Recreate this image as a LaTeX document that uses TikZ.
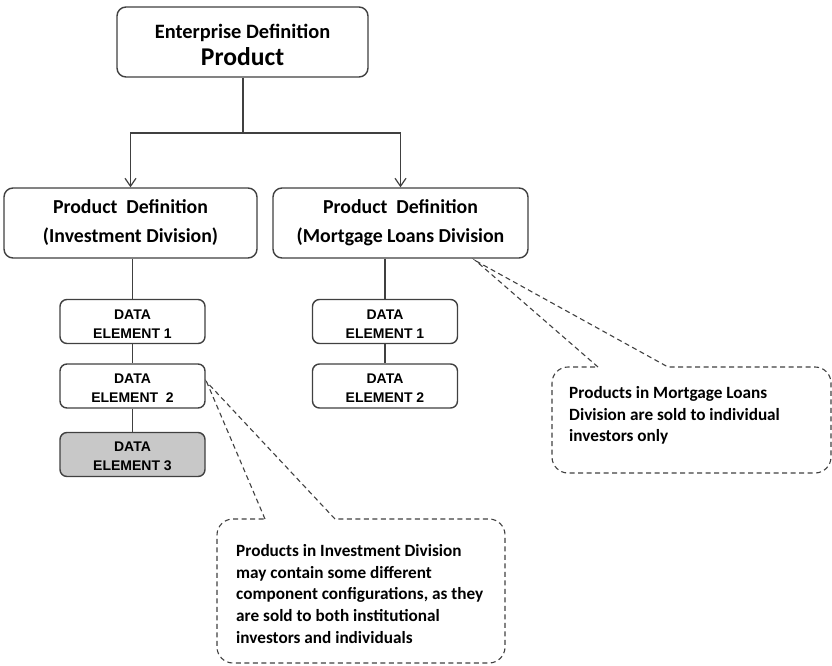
\documentclass[tikz,border=0pt]{standalone}
\usepackage{fontspec}
\setmainfont{Carlito}
\newfontfamily\arialfont{Liberation Sans}
\usetikzlibrary{arrows.meta}
\definecolor{edge}{HTML}{404040}
\definecolor{shade}{HTML}{C8C8C8}
\tikzset{
  box/.style={draw=edge, line width=1.4pt, rounded corners=9pt, fill=white, align=center, inner sep=0pt, text=black},
  defbox/.style={box, minimum width=253pt, minimum height=70pt, font=\bfseries\fontsize{19.8}{29}\selectfont},
  elembox/.style={box, rounded corners=7pt, minimum width=145pt, minimum height=44pt, font=\arialfont\bfseries\fontsize{14}{19}\selectfont},
  link/.style={draw=edge, line width=1.3pt},
  arrowlink/.style={link, -{Straight Barb[length=8pt,width=11pt,line width=1.2pt]}},
  callout/.style={draw=edge, line width=1.1pt, dash pattern=on 5pt off 3.5pt},
  notetext/.style={align=left, anchor=north west, inner sep=0pt, text=black, font=\bfseries\fontsize{17.2}{21.8}\selectfont},
}
\begin{document}
\begin{tikzpicture}[x=1pt,y=-1pt]
\useasboundingbox (0,0) rectangle (832,666);
% top node
\node[box, minimum width=251pt, minimum height=70pt, font=\bfseries\fontsize{20.4}{27}\selectfont] (ent) at (242.5,42)
  {\rule{0pt}{21pt}Enterprise Definition\\{\fontsize{25.6}{27}\selectfont Product}};
% division nodes
\node[defbox] (inv) at (130.5,223) {Product\ \ Definition\\(Investment Division)};
\node[defbox, minimum width=255pt] (mor) at (400.5,223) {Product\ \ Definition\\(Mortgage Loans Division};
% data elements
\node[elembox] (i1) at (132.5,321.5) {\rule{0pt}{14pt}DATA\\ELEMENT 1};
\node[elembox] (i2) at (132.5,386) {\rule{0pt}{14pt}DATA\\ELEMENT\ \ 2};
\node[elembox, fill=shade] (i3) at (132.5,454.5) {\rule{0pt}{14pt}DATA\\ELEMENT 3};
\node[elembox] (m1) at (385,321.5) {\rule{0pt}{14pt}DATA\\ELEMENT 1};
\node[elembox] (m2) at (385,386) {\rule{0pt}{14pt}DATA\\ELEMENT 2};
% connectors
\coordinate (split) at (243,133);
\draw[link] (ent.south -| split) -- (split);
\draw[arrowlink] (split) -| (inv.north);
\draw[arrowlink] (split) -| (mor.north);
\draw[link] (inv.south -| i1) -- (i1.north);
\draw[link] (i1) -- (i2);
\draw[link] (i2) -- (i3);
\draw[link] (mor.south -| m1) -- (m1.north);
\draw[link] (m1) -- (m2);
% callout 1 (investment)
\node[notetext] (note1) at (236,544) {Products in Investment Division\\may contain some different\\component configurations, as they\\are sold to both institutional\\investors and individuals};
\coordinate (tip1) at ([xshift=1pt,yshift=4pt]i2.east);
\draw[callout] (265,519) [sharp corners] -- (tip1) -- (335,519) [rounded corners=16pt] -- (505,519) -- (505,663) -- (217,663) -- (217,519) -- (265,519);
% callout 2 (mortgage)
\node[notetext] (note2) at (569,386) {Products in Mortgage Loans\\Division are sold to individual\\investors only};
\coordinate (tip2) at (476,261);
\draw[callout] (598,367) [sharp corners] -- (tip2) -- (668,367) [rounded corners=16pt] -- (831,367) -- (831,473) -- (552,473) -- (552,367) -- (598,367);
\end{tikzpicture}
\end{document}
